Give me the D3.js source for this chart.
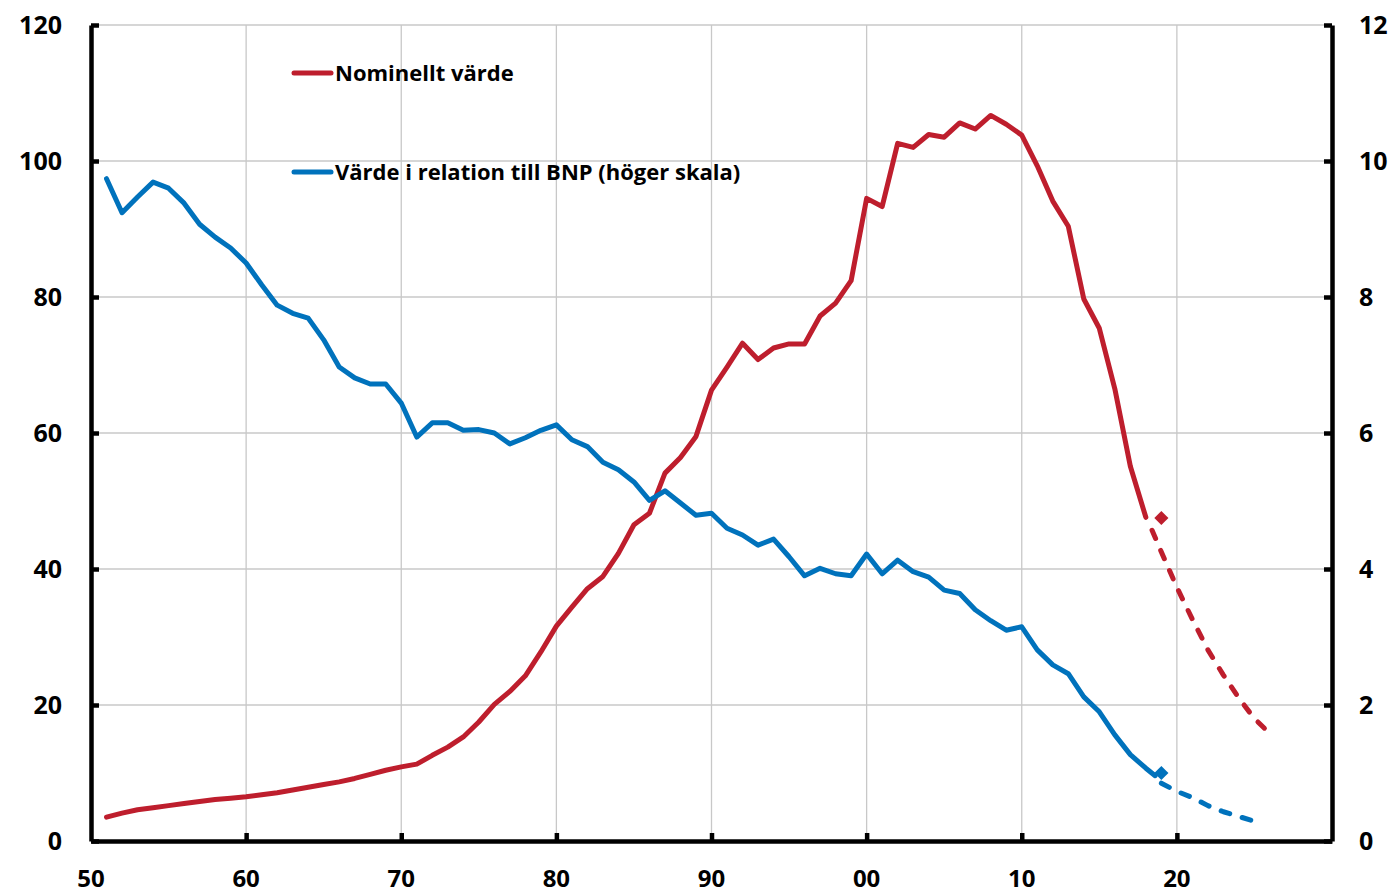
<!DOCTYPE html>
<html>
<head>
<meta charset="utf-8">
<script src="https://cdn.jsdelivr.net/npm/d3@7"></script>
<style>
  body { margin: 0; background: #fff; }
  text { font-family: "Open Sans", Lato, sans-serif; font-weight: bold; fill: #000; }
</style>
</head>
<body>
<div id="chart"></div>
<script>
// annual observations
const years = [1951, 1952, 1953, 1954, 1955, 1956, 1957, 1958, 1959, 1960,
  1961, 1962, 1963, 1964, 1965, 1966, 1967, 1968, 1969, 1970,
  1971, 1972, 1973, 1974, 1975, 1976, 1977, 1978, 1979, 1980,
  1981, 1982, 1983, 1984, 1985, 1986, 1987, 1988, 1989, 1990,
  1991, 1992, 1993, 1994, 1995, 1996, 1997, 1998, 1999, 2000,
  2001, 2002, 2003, 2004, 2005, 2006, 2007, 2008, 2009, 2010,
  2011, 2012, 2013, 2014, 2015, 2016, 2017, 2018]

// Nominellt värde (vänster skala)
const nominal = [3.5, 4.1, 4.6, 4.9, 5.2, 5.5, 5.8, 6.1, 6.3, 6.5,
  6.8, 7.1, 7.5, 7.9, 8.3, 8.7, 9.2, 9.8, 10.4, 10.9,
  11.3, 12.6, 13.8, 15.3, 17.5, 20.1, 22.0, 24.3, 27.8, 31.6,
  34.4, 37.1, 38.9, 42.3, 46.5, 48.2, 54.1, 56.4, 59.5, 66.3,
  69.7, 73.2, 70.8, 72.5, 73.1, 73.1, 77.2, 79.1, 82.4, 94.5,
  93.3, 102.6, 102.0, 103.9, 103.5, 105.6, 104.7, 106.7, 105.4, 103.8,
  99.3, 94.1, 90.4, 79.7, 75.4, 66.5, 55.1, 47.6]

// Värde i relation till BNP (höger skala), last point mid 2018
const ratioYears = years.concat([2018.6])
const ratio = [9.74, 9.24, 9.47, 9.69, 9.60, 9.38, 9.07, 8.88, 8.72, 8.50,
  8.18, 7.88, 7.76, 7.69, 7.37, 6.97, 6.81, 6.72, 6.72, 6.44,
  5.94, 6.15, 6.15, 6.04, 6.05, 6.00, 5.84, 5.93, 6.04, 6.12,
  5.90, 5.80, 5.57, 5.46, 5.28, 5.01, 5.15, 4.97, 4.79, 4.82,
  4.60, 4.50, 4.35, 4.44, 4.18, 3.90, 4.01, 3.93, 3.90, 4.22,
  3.93, 4.13, 3.96, 3.88, 3.69, 3.64, 3.40, 3.24, 3.10, 3.15,
  2.81, 2.59, 2.46, 2.12, 1.90, 1.56, 1.27, 1.07, 0.96]

// projections (dashed)
const nominalProjYears = [2018.4, 2019, 2020, 2021, 2022, 2023, 2024, 2025, 2026]
const nominalProj = [45.7, 42.5, 37.3, 32.6, 28.1, 24.4, 21.0, 18.0, 15.8]
const ratioProjYears = [2019, 2020, 2021, 2022, 2023, 2024, 2025]
const ratioProj = [0.85, 0.73, 0.64, 0.52, 0.43, 0.36, 0.29]

// 2019 markers
const markerYear = 2019
const nominalMarker = 47.5
const ratioMarker = 1.0

const xTicks = [1950, 1960, 1970, 1980, 1990, 2000, 2010, 2020]
const leftTicks = [0, 20, 40, 60, 80, 100, 120]
const rightTicks = [0, 2, 4, 6, 8, 10, 12]

const red = "#BE1E2D"
const blue = "#0072BC"

let width = 1396
let height = 894

var svg = d3.select("#chart")
  .append("svg")
  .attr("width", width)
  .attr("height", height)

let x = d3.scaleLinear().domain([1950, 2030]).range([91, 1332])
let yLeft = d3.scaleLinear().domain([0, 120]).range([841, 25])
let yRight = d3.scaleLinear().domain([0, 12]).range([841, 25])

// grid
svg.append("g")
  .selectAll("line")
  .data(leftTicks.slice(1))
  .enter().append("line")
  .attr("x1", x(1950)).attr("x2", x(2030))
  .attr("y1", d => yLeft(d)).attr("y2", d => yLeft(d))
  .attr("stroke", "#c8c8c8").attr("stroke-width", 1.3)

svg.append("g")
  .selectAll("line")
  .data(xTicks.slice(1))
  .enter().append("line")
  .attr("x1", d => x(d)).attr("x2", d => x(d))
  .attr("y1", yLeft(0)).attr("y2", yLeft(120))
  .attr("stroke", "#c8c8c8").attr("stroke-width", 1.3)

// axes
var leftAxis = svg.append("g")
  .attr("transform", "translate(" + x(1950) + ",0)")
  .call(d3.axisRight(yLeft).tickValues(leftTicks).tickSize(8).tickSizeOuter(0).tickFormat(""))
var rightAxis = svg.append("g")
  .attr("transform", "translate(" + x(2030) + ",0)")
  .call(d3.axisLeft(yRight).tickValues(rightTicks).tickSize(8).tickSizeOuter(0).tickFormat(""))
var bottomAxis = svg.append("g")
  .attr("transform", "translate(0," + yLeft(0) + ")")
  .call(d3.axisTop(x).tickValues(xTicks.slice(1)).tickSize(8).tickSizeOuter(0).tickFormat(""))

;[leftAxis, rightAxis, bottomAxis].forEach(g => {
  g.select(".domain").attr("stroke", "#000").attr("stroke-width", 4.5)
  g.selectAll(".tick line").attr("stroke", "#000").attr("stroke-width", 4.5)
})

// tick labels
svg.append("g").selectAll("text")
  .data(leftTicks)
  .enter().append("text")
  .attr("x", 62).attr("y", d => yLeft(d))
  .attr("dy", "0.36em")
  .attr("text-anchor", "end")
  .style("font-size", "25px")
  .text(d => d)

svg.append("g").selectAll("text")
  .data(rightTicks)
  .enter().append("text")
  .attr("x", 1359).attr("y", d => yRight(d))
  .attr("dy", "0.36em")
  .attr("text-anchor", "start")
  .style("font-size", "25px")
  .text(d => d)

svg.append("g").selectAll("text")
  .data(xTicks)
  .enter().append("text")
  .attr("x", d => x(d)).attr("y", 887)
  .attr("text-anchor", "middle")
  .style("font-size", "24px")
  .text(d => String(d % 100).padStart(2, "0"))

// lines
let lineLeft = d3.line().x(d => x(d[0])).y(d => yLeft(d[1]))
let lineRight = d3.line().x(d => x(d[0])).y(d => yRight(d[1]))

function drawLine(pts, gen, color, dashed) {
  svg.append("path")
    .datum(pts)
    .attr("d", gen)
    .attr("fill", "none")
    .attr("stroke", color)
    .attr("stroke-width", 5)
    .attr("stroke-linejoin", "round")
    .attr("stroke-linecap", "round")
    .attr("stroke-dasharray", dashed ? "9,13" : null)
}

drawLine(d3.zip(years, nominal), lineLeft, red, false)
drawLine(d3.zip(ratioYears, ratio), lineRight, blue, false)
drawLine(d3.zip(nominalProjYears, nominalProj), lineLeft, red, true)
drawLine(d3.zip(ratioProjYears, ratioProj), lineRight, blue, true)

// markers
let diamond = d3.symbol().type(d3.symbolSquare).size(100)
svg.append("path")
  .attr("d", diamond)
  .attr("transform", "translate(" + x(markerYear) + "," + yLeft(nominalMarker) + ") rotate(45)")
  .attr("fill", red)
svg.append("path")
  .attr("d", diamond)
  .attr("transform", "translate(" + x(markerYear) + "," + yRight(ratioMarker) + ") rotate(45)")
  .attr("fill", blue)

// legend
const legendItems = [
  {label: "Nominellt värde", color: red, y: 73},
  {label: "Värde i relation till BNP (höger skala)", color: blue, y: 172}
]
var legend = svg.append("g")
legend.selectAll("line")
  .data(legendItems)
  .enter().append("line")
  .attr("x1", 294).attr("x2", 331)
  .attr("y1", d => d.y).attr("y2", d => d.y)
  .attr("stroke", d => d.color)
  .attr("stroke-width", 5)
  .attr("stroke-linecap", "round")
legend.selectAll("text")
  .data(legendItems)
  .enter().append("text")
  .attr("x", 335).attr("y", d => d.y + 8)
  .style("font-size", "22px")
  .text(d => d.label)
</script>
</body>
</html>
